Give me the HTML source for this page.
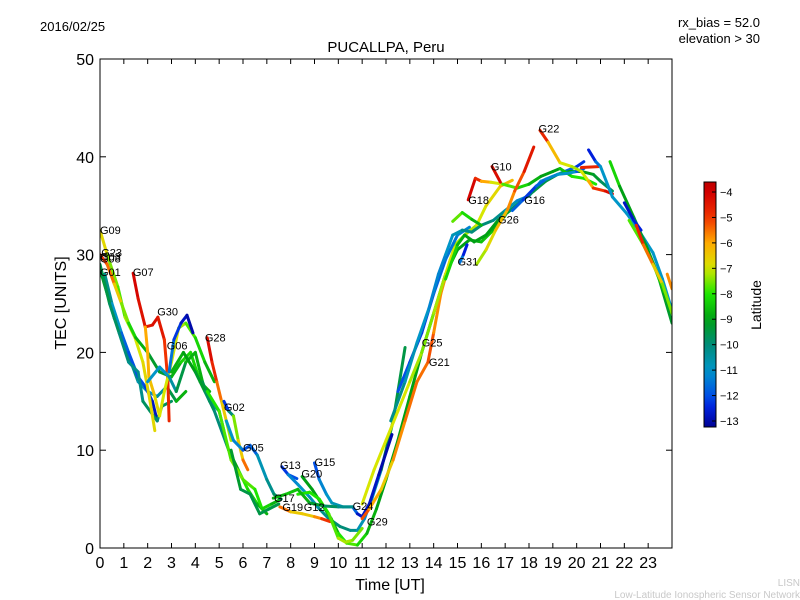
<!DOCTYPE html>
<html><head><meta charset="utf-8"><style>
body{margin:0;background:#fff;}
svg{display:block;font-family:"Liberation Sans","DejaVu Sans",sans-serif;}
</style></head><body>
<svg id="chart" width="800" height="600" viewBox="0 0 800 600">
<defs>
<clipPath id="plotclip"><rect x="100" y="59" width="572" height="489"/></clipPath>
<linearGradient id="jet" x1="0" y1="1" x2="0" y2="0"></linearGradient>
</defs>
<text x="40" y="31" font-size="13">2016/02/25</text>
<text x="760" y="27" font-size="13" text-anchor="end">rx_bias = 52.0</text>
<text x="760" y="43" font-size="13" text-anchor="end">elevation &gt; 30</text>
<text x="386" y="52" font-size="15" text-anchor="middle">PUCALLPA, Peru</text>
<g id="tracks" clip-path="url(#plotclip)"></g>
<g id="labels"></g>
<rect x="100" y="59" width="572" height="489" fill="none" stroke="#000" stroke-width="1"/>
<g id="axes"></g>
<text x="390" y="590" font-size="16" text-anchor="middle">Time [UT]</text>
<text x="66" y="303" font-size="16" text-anchor="middle" transform="rotate(-90 66 303)">TEC [UNITS]</text>
<rect x="704" y="182" width="12" height="245" fill="url(#jet)" stroke="#000" stroke-width="1"/>
<g id="cbticks"></g>
<text x="761" y="305" font-size="14" text-anchor="middle" transform="rotate(-90 761 305)">Latitude</text>
<text x="800" y="586" font-size="10" fill="#c8c8c8" text-anchor="end">LISN</text>
<text x="800" y="598" font-size="10" fill="#c8c8c8" text-anchor="end">Low-Latitude Ionospheric Sensor Network</text>
</svg>
<script>
const xTicks=[0,1,2,3,4,5,6,7,8,9,10,11,12,13,14,15,16,17,18,19,20,21,22,23];
const yTicks=[0,10,20,30,40,50];
const cbTicks=[-4,-5,-6,-7,-8,-9,-10,-11,-12,-13];
// each track: [time UT, TEC, latitude]
const tracks=[
[[0,28.5,-9],[0.3,26,-9],[0.6,23.5,-9.5],[1,21,-10],[1.3,19,-10],[1.6,17,-10.5],[2,16,-11],[2.4,15.5,-11],[2.8,16.5,-10],[3.2,15,-9],[3.6,16,-8.5]],
[[0.2,28,-10],[0.5,25,-10.5],[0.9,22,-11.5],[1.2,20,-12],[1.6,17.5,-12],[1.9,16.5,-12],[2.2,15,-12.5],[2.4,13,-13]],
[[0,29,-9.5],[0.4,25,-9.5],[0.8,22,-10],[1.2,19,-10],[1.6,18,-10.5],[1.8,15,-10],[2.1,14,-9.5],[2.4,13,-10],[2.6,14.5,-10],[3,15,-9.5]],
[[0,32.5,-6.5],[0.3,30,-7],[0.75,26.7,-8],[1.05,23.6,-7.5],[1.47,21.5,-7],[1.8,19,-7],[2.1,15,-6.5],[2.3,12,-7]],
[[0,30,-5],[0.3,29,-5],[0.6,27,-6],[0.9,25,-7],[1.2,23,-8],[1.5,21.5,-8.5],[2,20,-9],[2.5,18,-9.5],[3,17.5,-9],[3.4,19,-8.5],[3.8,20,-8],[4.2,17,-8.5],[4.6,16,-9]],
[[1.39,28.1,-4],[1.6,25.5,-4.2],[1.9,22.6,-4.5],[2.2,22.8,-4.5],[2.43,23.6,-4],[2.7,21.3,-5],[2.85,17,-5],[2.9,13,-4.5]],
[[1.9,22.6,-6],[2,20,-6],[2.05,17.5,-6.2],[2.3,15.5,-6.5],[2.5,13.5,-7],[2.7,16,-7],[3,19,-7],[3.3,22.5,-7],[3.6,23,-7.5],[4,21.5,-8],[4.4,19,-8.5],[4.8,17,-9]],
[[2.9,18,-11],[3.1,21.3,-12],[3.4,23,-12.5],[3.65,23.8,-13],[3.9,22,-13]],
[[2,17,-11],[2.5,18.5,-11],[2.9,17.5,-11],[3.2,16,-10],[3.6,19,-9],[4,20,-8.5],[4.3,17,-9],[4.6,15,-10],[5,14,-11],[5.2,12,-10.5]],
[[4.5,21.5,-4],[4.7,19,-4.5],[4.9,17,-5],[5.1,15,-6],[5.3,13,-7],[5.5,11,-7.5]],
[[3,18,-8.5],[3.5,20,-9],[4,18,-9],[4.4,16,-9.5],[4.8,14,-10],[5.1,12,-10],[5.4,10,-10],[5.8,8,-8],[6.2,6,-8],[6.6,4.5,-8.5],[7,3.5,-9]],
[[5.2,15,-12.5],[5.4,14,-12],[5.6,13.5,-8],[5.8,11,-7],[6,9,-6],[6.2,8,-5]],
[[4.5,16,-8],[5,14,-8],[5.5,9,-7.5],[6,7,-7.5],[6.5,6,-8],[6.8,4,-8],[7.2,4.5,-8.5],[7.6,5,-9]],
[[5.3,13,-11],[5.6,11,-11],[6,10,-11.5],[6.3,10.5,-12.5],[6.6,9.5,-11],[7,7,-10.5],[7.3,5.5,-10],[7.6,5,-9.5]],
[[5.5,10,-9],[5.9,6,-9.5],[6.3,5.5,-9.5],[6.7,3.5,-9.5],[7.1,4,-9.5],[7.5,4.5,-9.5]],
[[7.63,8.3,-12.5],[7.9,7.5,-12],[8.26,7.1,-12]],
[[7.9,7.5,-11.5],[8.3,6.5,-11],[8.8,5.2,-11],[9.2,4,-10.5],[9.6,3,-10],[10.07,2.2,-10],[10.5,1.8,-10],[10.8,1.8,-10.5],[11.1,3,-11],[11.4,5,-11.5],[11.8,8,-10],[12.3,13,-9],[12.8,20.5,-10]],
[[7.55,4.2,-5],[8,3.7,-6],[8.5,3.5,-7],[9,3.2,-6],[9.3,3,-5.5],[9.65,2.7,-4.5]],
[[8.48,7.3,-9],[8.9,6,-9],[9.3,4.5,-9],[9.7,3,-9],[10,1.5,-8.5],[10.35,0.5,-7.5],[10.8,0.3,-8],[11.2,1.5,-8.5],[11.6,4,-9],[12,7,-9],[12.5,11,-9],[13,15.5,-9],[13.5,20,-9],[14,24,-9],[14.5,28,-9],[15,30.5,-9],[15.5,31.5,-9],[16,31.3,-8.5],[16.5,32.5,-8.5],[17,34,-9]],
[[8.3,5.5,-8],[8.8,5.7,-8],[9.2,5,-8],[9.6,3.5,-8],[10,1,-7.5],[10.3,0.6,-7],[10.6,0.8,-7.5],[11,2,-7.5]],
[[9,8.7,-12.5],[9.2,7,-11.5],[9.5,5.5,-11],[9.73,4.6,-11],[10.2,4.2,-10.5],[10.6,4.2,-11],[10.8,3.5,-12.5],[11,3.2,-13],[11.3,4.5,-12.5],[11.7,7.5,-13],[12.25,11.6,-13]],
[[7.27,5.1,-9],[7.8,5.5,-8.5],[8.3,6,-8.5],[8.8,4.6,-9],[9.4,4.3,-9.5],[10,4.2,-10],[10.6,4.2,-10.5]],
[[11,3,-5],[11.3,4,-5.5],[11.8,6,-6.5],[12.3,9,-6.5],[12.8,13,-5],[13.3,17,-6],[13.76,19,-5],[14,22,-5.5],[14.3,26,-6],[14.7,29.5,-5.5]],
[[11,4.5,-7],[11.5,8,-7],[12,11,-7],[12.5,14,-7],[13,17,-7],[13.5,20,-7.5],[14,24,-7.5],[14.5,28,-7],[14.9,31,-7],[15.3,32,-7.5],[15.8,33,-7],[16.2,35,-7],[16.8,37,-6.5],[17.3,37.6,-6]],
[[12.5,16,-12],[13,19,-12],[13.5,22,-12.5],[14,26,-12],[14.5,29.5,-11.5],[15,32,-11.5],[15.5,32.8,-11]],
[[12.2,13,-10],[12.8,17,-10.5],[13.3,21,-11],[13.8,24.5,-11],[14.2,28,-11.5],[14.5,30,-11],[14.8,32,-11],[15.2,32.5,-10.5],[15.6,32.3,-10],[16,33,-10],[16.5,33.5,-10],[17,34.5,-10.5],[17.5,35.5,-11],[18,36,-11.5],[18.5,37.5,-11],[19,38,-11],[19.5,38.5,-11.5],[20,39,-12],[20.3,39.5,-12.5]],
[[15.1,29.2,-11],[15.25,30,-12],[15.4,31,-13]],
[[14.5,27.5,-8],[15,31,-8.5],[15.3,32,-9],[15.7,31.3,-9],[16.2,32,-9],[16.7,33.5,-9],[17.2,34.5,-9.5],[17.7,35.5,-10],[18.2,36.5,-9.5],[18.7,37.5,-9.5],[19.2,38.2,-9.5],[19.7,38.5,-9],[20.2,38.5,-9],[20.7,38.2,-9],[21,37.5,-9.5],[21.5,36.5,-10]],
[[15.45,35.6,-4],[15.75,37.8,-4.2],[16,37.5,-5.5],[16.4,37.4,-6.5],[16.9,37.2,-7.5],[17.5,36.8,-8],[18,37.2,-8.5],[18.5,38,-9],[19,38.5,-9],[19.3,38.8,-9],[19.8,38,-8],[20.3,37.8,-8],[20.8,37.2,-8]],
[[14.8,33.4,-7.5],[15.2,34.3,-7.8],[15.6,33.6,-8.5],[16,33,-9]],
[[16.45,39,-4],[16.8,37.4,-4.5]],
[[15.8,29,-7.5],[16.2,30.5,-7],[16.6,32.5,-6.5],[17.1,34.6,-6],[17.4,36.5,-5.5],[17.8,38.5,-5],[18.2,41,-4]],
[[17.3,34.5,-11],[17.75,35.6,-12.5],[18.3,37,-12],[18.7,37.7,-11.5],[19.2,38.2,-11],[19.6,38.3,-11],[20,38.5,-11],[20.3,38.8,-13]],
[[18.46,42.7,-4],[18.8,41.5,-5.5],[19.3,39.4,-7],[19.8,39,-7],[20.2,38.5,-7.5],[20.5,37.5,-6.5],[20.7,36.8,-5.5],[21.2,36.5,-4.5],[21.5,36.2,-4]],
[[20.2,38.9,-5],[20.9,39,-4.5]],
[[20.5,40.7,-13],[20.8,39.5,-12],[21,39,-11],[21.5,35.9,-11],[22.1,34.2,-11],[22.6,32.5,-11],[23.2,30.2,-11],[23.6,27.5,-11],[24,24.3,-11]],
[[21.4,39.5,-8],[21.8,37,-8.5],[22.4,33.8,-9.5],[22.9,31,-9],[23.4,28,-9],[24,23,-9.5]],
[[22.2,33.5,-8],[22.8,31,-7.5],[23.3,28.5,-8],[23.7,26,-9],[24,24,-9]],
[[22,35.3,-13],[22.4,33.5,-12.5],[22.7,32.5,-12.5]],
[[22.5,33,-4.5],[22.8,31,-5],[23.2,29,-6],[23.6,27,-7],[24,24,-8]],
[[23.8,28,-5.5],[24,26.5,-6]]
];
const satNames=["G09","G23","G03","G08","G01","G07","G30","G06","G28","G02","G05","G13","G15","G20","G17","G19","G12","G24","G29","G25","G21","G31","G18","G10","G26","G16","G22"];
const satTimes=[0,0.05,0,0,0,1.38,2.4,2.8,4.4,5.2,6.0,7.55,9.0,8.45,7.3,7.65,8.55,10.6,11.2,13.5,13.8,15.0,15.45,16.4,16.7,17.8,18.4];
const satTecs=[32.5,30.2,29.8,29.6,28.2,28.2,24.2,20.7,21.5,14.4,10.3,8.5,8.8,7.6,5.1,4.2,4.2,4.3,2.7,21.0,19.0,29.3,35.6,39.0,33.6,35.6,42.9];

const NS="http://www.w3.org/2000/svg";
const X=t=>100+t*572/24;
const Y=v=>548-v*489/50;
const LAT=l=>192+(-4-l)*229/9;
const cmap=[[-13.3,[0,0,140]],[-12.5,[0,30,220]],[-12,[0,80,230]],[-11,[0,150,200]],[-10,[0,140,120]],[-9,[0,160,20]],[-8,[30,230,0]],[-7,[215,230,0]],[-6,[255,170,0]],[-5,[240,50,0]],[-4,[210,0,0]],[-3.5,[185,0,0]]];
function jet(l){
  if(l<=cmap[0][0])return `rgb(${cmap[0][1]})`;
  for(let i=0;i<cmap.length-1;i++){
    const a=cmap[i],b=cmap[i+1];
    if(l<=b[0]){const f=(l-a[0])/(b[0]-a[0]);
      return 'rgb('+a[1].map((c,j)=>Math.round(c+(b[1][j]-c)*f)).join(',')+')';}
  }
  return `rgb(${cmap[cmap.length-1][1]})`;
}
const grad=document.getElementById('jet');
const lo=-4+(427-192)*9/229*-1, hi=-4+(192-182)*9/229;
for(let k=0;k<=24;k++){
  const l=lo+(hi-lo)*k/24;
  const s=document.createElementNS(NS,'stop');
  s.setAttribute('offset',k/24);
  s.setAttribute('stop-color',jet(l));
  grad.appendChild(s);
}
const tg=document.getElementById('tracks');
tracks.forEach((tr,i)=>{
  const g=document.createElementNS(NS,'g');
  
  
  for(let k=0;k<tr.length-1;k++){
    const a=tr[k],b=tr[k+1];
    const ln=document.createElementNS(NS,'line');
    ln.setAttribute('x1',X(a[0]));ln.setAttribute('y1',Y(a[1]));
    ln.setAttribute('x2',X(b[0]));ln.setAttribute('y2',Y(b[1]));
    ln.setAttribute('stroke',jet((a[2]+b[2])/2));
    ln.setAttribute('stroke-width','3');
    ln.setAttribute('stroke-linecap','round');
    
    
    g.appendChild(ln);
  }
  tg.appendChild(g);
});
const lg=document.getElementById('labels');
satNames.forEach((n,i)=>{
  const t=document.createElementNS(NS,'text');
  t.setAttribute('x',X(satTimes[i]));
  t.setAttribute('y',Y(satTecs[i])+4);
  t.setAttribute('font-size','11');
  t.textContent=n;
  
  
  lg.appendChild(t);
});
const ax=document.getElementById('axes');
function add(tag,attrs,name,text){
  const e=document.createElementNS(NS,tag);
  for(const k in attrs)e.setAttribute(k,attrs[k]);
  if(text!==undefined)e.textContent=text;
  
  
  return e;
}
xTicks.forEach(t=>{
  const x=X(t);
  ax.appendChild(add('line',{x1:x,y1:548,x2:x,y2:543,stroke:'#000'},'x-tick'));
  ax.appendChild(add('line',{x1:x,y1:59,x2:x,y2:64,stroke:'#000'},'x-tick-top'));
  ax.appendChild(add('text',{x:x,y:568,'font-size':16,'text-anchor':'middle'},'x-tick-label',String(t)));
});
yTicks.forEach(v=>{
  const y=Y(v);
  ax.appendChild(add('line',{x1:100,y1:y,x2:106,y2:y,stroke:'#000'},'y-tick'));
  ax.appendChild(add('line',{x1:672,y1:y,x2:666,y2:y,stroke:'#000'},'y-tick-right'));
  ax.appendChild(add('text',{x:94,y:y+6,'font-size':16,'text-anchor':'end'},'y-tick-label',String(v)));
});
const cb=document.getElementById('cbticks');
cbTicks.forEach(l=>{
  const y=LAT(l);
  cb.appendChild(add('line',{x1:712,y1:y,x2:716,y2:y,stroke:'#000'},'colorbar-tick'));
  cb.appendChild(add('text',{x:720,y:y+4,'font-size':11},'colorbar-tick-label','\u2212'+Math.abs(l)));
});
</script>
</body></html>
